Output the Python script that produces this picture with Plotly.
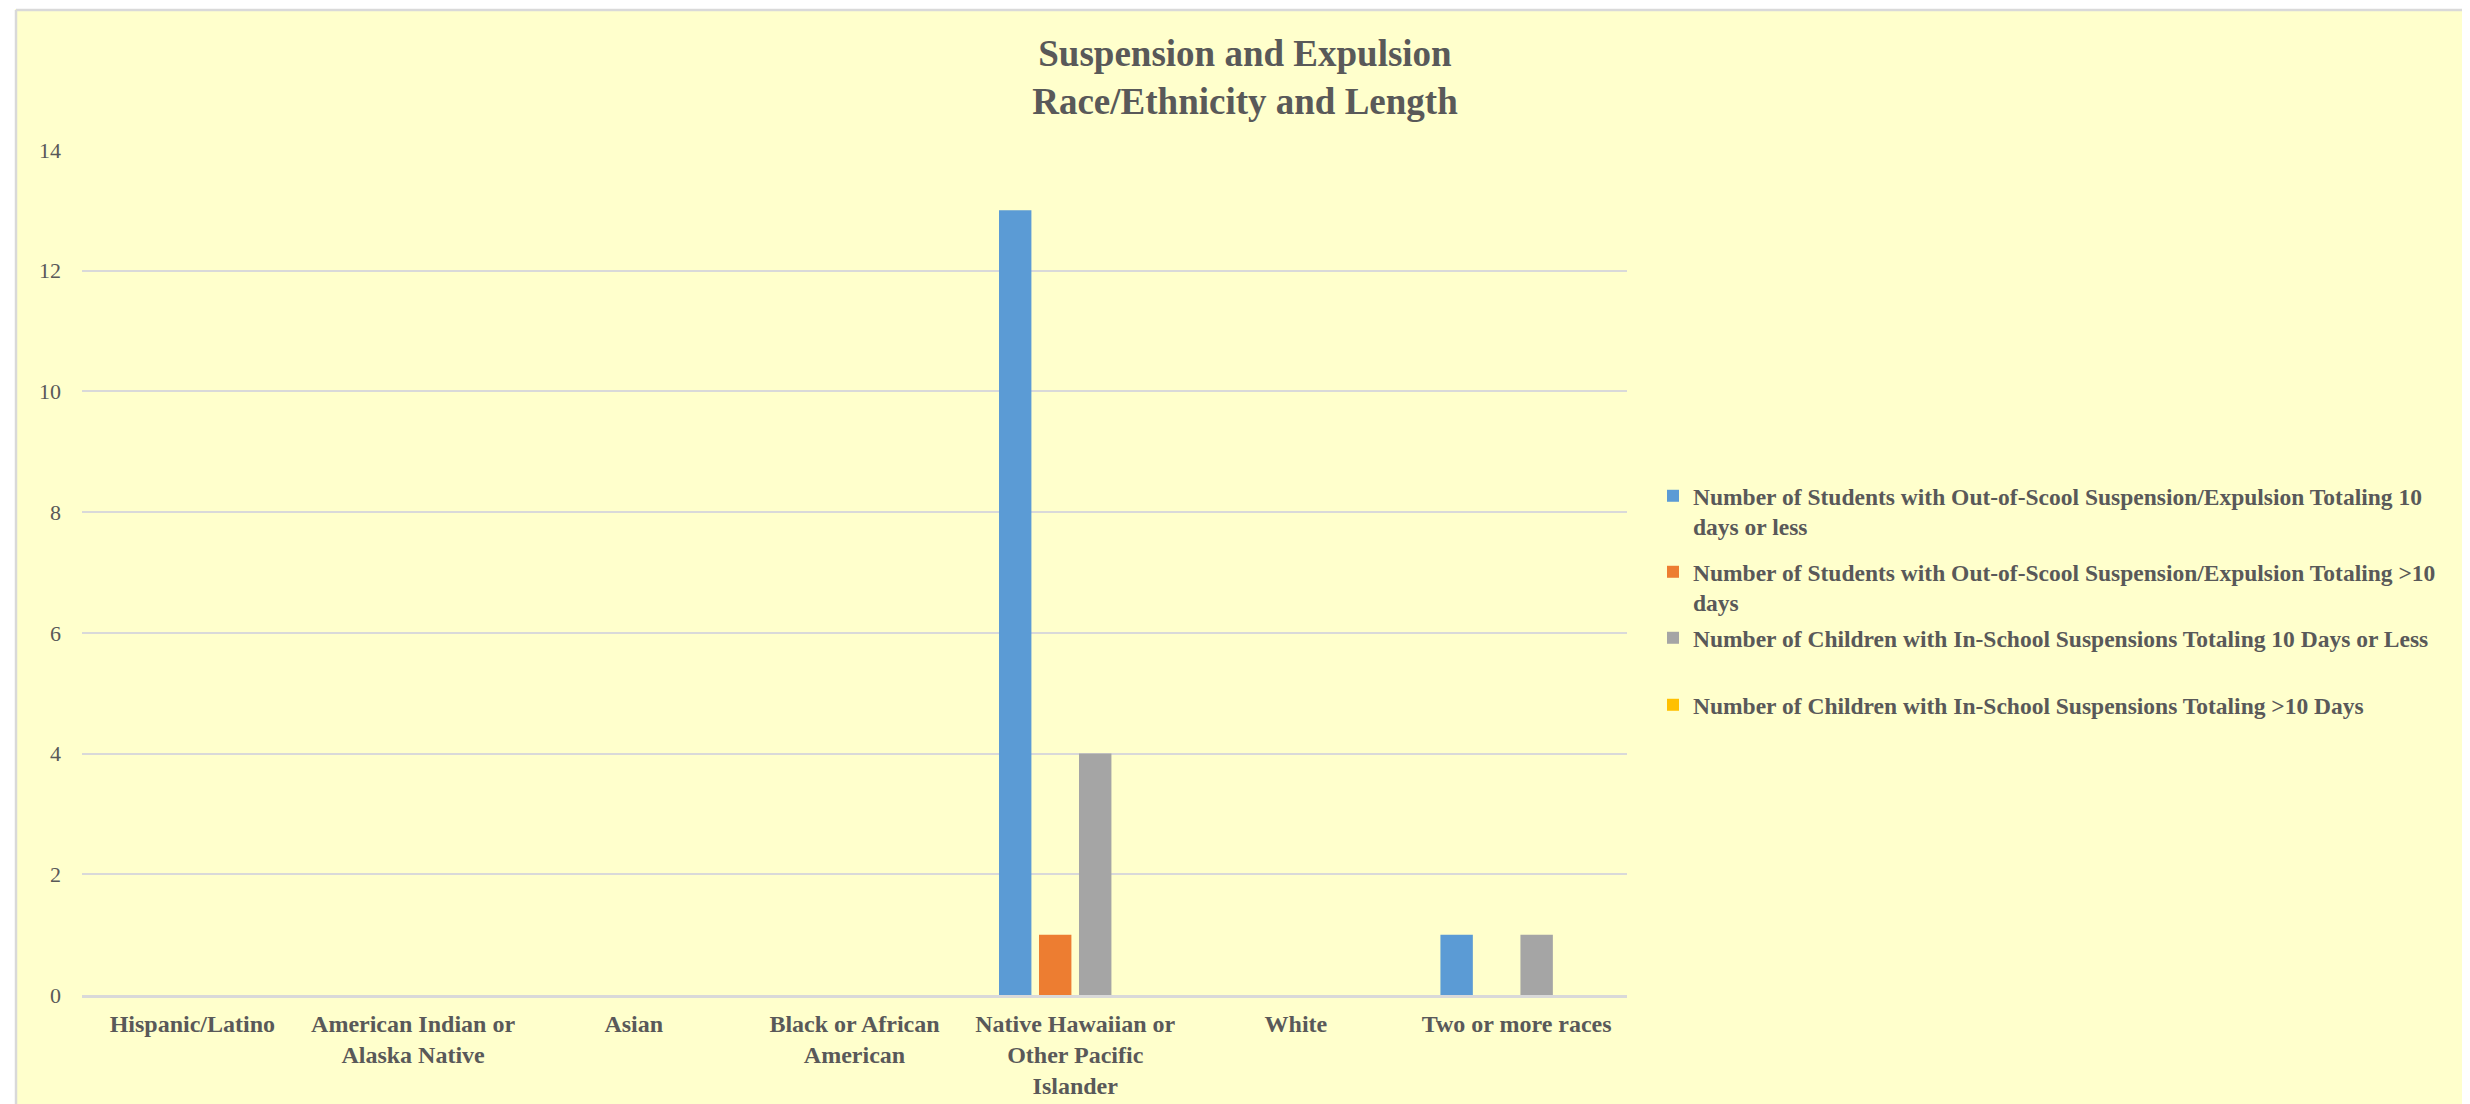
import plotly.graph_objects as go

# ---- data ----
categories = ["Hispanic/Latino", "American Indian or Alaska Native", "Asian",
              "Black or African American", "Native Hawaiian or Other Pacific Islander",
              "White", "Two or more races"]
tick_labels = ["Hispanic/Latino", "American Indian or<br>Alaska Native", "Asian",
               "Black or African<br>American", "Native Hawaiian or<br>Other Pacific<br>Islander",
               "White", "Two or more races"]
series_names = [
    "Number of Students with Out-of-Scool Suspension/Expulsion Totaling 10<br>days or less",
    "Number of Students with Out-of-Scool Suspension/Expulsion Totaling >10<br>days",
    "Number of Children with In-School Suspensions Totaling 10 Days or Less",
    "Number of Children with In-School Suspensions Totaling >10 Days",
]
out_school_10_or_less = [0, 0, 0, 0, 13, 0, 1]
out_school_over_10 = [0, 0, 0, 0, 1, 0, 0]
in_school_10_or_less = [0, 0, 0, 0, 4, 0, 1]
in_school_over_10 = [0, 0, 0, 0, 0, 0, 0]
y_ticks = [0, 2, 4, 6, 8, 10, 12, 14]

series_values = [out_school_10_or_less, out_school_over_10, in_school_10_or_less, in_school_over_10]
colors = ["#5B9BD5", "#ED7D31", "#A5A5A5", "#FFC000"]

# ---- layout geometry (reference pixel coords, page body margin compensated) ----
OFF = 8
W, H = 2470 - OFF, 1104 - OFF
L = 82 - OFF
T = 150 - OFF
R = W - (1627 - OFF)
B = H - (995 - OFF)
PW, PH = W - L - R, H - T - B


def px2x(px):  # reference screen px -> paper x
    return (px - OFF - L) / PW


def py2y(py):  # reference screen px -> paper y
    return (H - B - (py - OFF)) / PH


FONT = "Liberation Serif, Times New Roman, serif"
TXT = "#595959"
BG = "#FFFFCC"

fig = go.Figure()
legend_ids = ["legend", "legend2", "legend3", "legend4"]
for name, vals, col, lid in zip(series_names, series_values, colors, legend_ids):
    fig.add_trace(go.Bar(x=categories, y=vals, name=name, marker_color=col,
                         marker_line_width=0, legend=lid, hoverinfo="skip"))

legend_centers = [494, 570, 636, 703]
legend_common = dict(
    font=dict(family=FONT, size=23.5, color=TXT, weight="bold"),
    bgcolor="rgba(0,0,0,0)", borderwidth=0,
    xanchor="left", yanchor="top", valign="top",
    itemclick=False, itemdoubleclick=False,
)
layout_legends = {}
for lid, c in zip(legend_ids, legend_centers):
    layout_legends[lid] = dict(x=px2x(1653), y=py2y(c - 20), **legend_common)

shapes = [
    dict(type="rect", xref="paper", yref="paper", x0=px2x(-5), x1=px2x(15),
         y0=py2y(H + 50), y1=py2y(-5), fillcolor="white", line_width=0, layer="below"),
    dict(type="rect", xref="paper", yref="paper", x0=px2x(-5), x1=px2x(2480),
         y0=py2y(9), y1=py2y(-5), fillcolor="white", line_width=0, layer="below"),
    dict(type="line", xref="paper", yref="paper", x0=px2x(16), x1=px2x(16),
         y0=py2y(H + 50), y1=py2y(10), line=dict(color="#D9D9D9", width=2.5), layer="below"),
    dict(type="line", xref="paper", yref="paper", x0=px2x(16), x1=px2x(2480),
         y0=py2y(10), y1=py2y(10), line=dict(color="#D9D9D9", width=2.5), layer="below"),
]

fig.update_layout(
    width=W, height=H,
    margin=dict(l=L, r=R, t=T, b=B, autoexpand=False),
    paper_bgcolor=BG, plot_bgcolor=BG,
    barmode="group", bargap=0.275, bargroupgap=0.19,
    title=dict(text="Suspension and Expulsion<br>Race/Ethnicity and Length",
               x=(1245 - OFF) / W, xref="container", xanchor="center",
               y=1 - (66 - OFF) / H, yref="container", yanchor="top",
               font=dict(family=FONT, size=37, color=TXT, weight="bold")),
    xaxis=dict(tickmode="array", tickvals=categories, ticktext=tick_labels,
               tickfont=dict(family=FONT, size=24, color=TXT, weight="bold"),
               showline=True, linecolor="#D9D9D9", linewidth=2.5,
               showgrid=False, ticks="", tickangle=0, ticklabelstandoff=5,
               fixedrange=True),
    yaxis=dict(range=[0, 14], tickvals=y_ticks, tickfont=dict(family=FONT, size=22, color=TXT),
               showgrid=True, gridcolor="#D9D9D9", gridwidth=1.5, zeroline=False,
               showline=False, ticks="", ticklabelstandoff=20, fixedrange=True),
    shapes=shapes,
    showlegend=True,
    **layout_legends,
)

fig.write_html("out.html")
